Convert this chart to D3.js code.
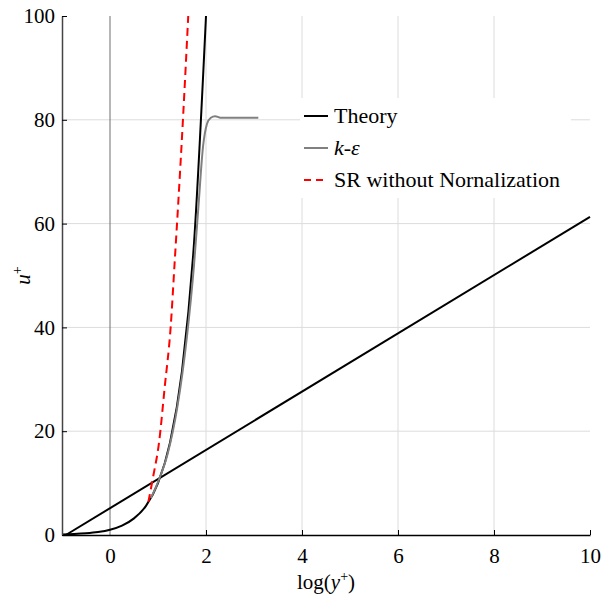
<!DOCTYPE html>
<html>
<head>
<meta charset="utf-8">
<script src="https://cdn.jsdelivr.net/npm/d3@7"></script>
<style>
	body { margin: 0; background: #fff; }
</style>
</head>
<body>
<div id="chart"></div>
<script>
// values
const xTicks = [0, 2, 4, 6, 8, 10];
const yTicks = [0, 20, 40, 60, 80, 100];

// theory: viscous sublayer branch
const theoryX = [-1, -0.75, -0.5, -0.25, 0, 0.25, 0.5, 0.75, 1, 1.25, 1.5, 1.75, 2];
const theoryY = [0.1, 0.18, 0.32, 0.56, 1, 1.8, 3.2, 5.6, 10, 17.8, 31.6, 56.2, 100];
// theory: log-law branch
const logLawX = [-0.92, 10];
const logLawY = [0, 61.3];

const keX = [0.85, 1.0, 1.2, 1.4, 1.6, 1.75, 1.84, 1.94, 2.02, 2.1, 2.19, 2.3, 3.09];
const keY = [7.1, 10.2, 15.6, 24.5, 38, 52, 63, 75, 79.2, 80.4, 80.7, 80.4, 80.4];

const srX = [0.8, 0.9, 1.02, 1.14, 1.264, 1.35, 1.417, 1.527, 1.63];
const srY = [6.4, 11.3, 17.7, 28.5, 40.1, 53, 63.2, 81.3, 100];

const legendLabels = ["Theory", "k-ε", "SR without Nornalization"];

{
	const width = 603, height = 599;
	const margin = { top: 16, right: 13, bottom: 64, left: 62 };
	const serif = "'Liberation Serif', 'DejaVu Serif', serif";

	const svg = d3.select("#chart").append("svg")
		.attr("width", width).attr("height", height)
		.style("font-family", serif);

	const x = d3.scaleLinear().domain([-1, 10]).range([margin.left, width - margin.right]);
	const y = d3.scaleLinear().domain([0, 100]).range([height - margin.bottom, margin.top]);

	const zip = (xs, ys) => xs.map((v, i) => [v, ys[i]]);

	// grid
	svg.append("g").selectAll("line")
		.data(xTicks.filter((d) => d !== 0 && d !== 10))
		.join("line")
		.attr("x1", (d) => x(d)).attr("x2", (d) => x(d))
		.attr("y1", y(0)).attr("y2", y(100))
		.attr("stroke", "#dcdcdc");
	svg.append("g").selectAll("line")
		.data(yTicks.filter((d) => d !== 0 && d !== 100))
		.join("line")
		.attr("x1", x(-1)).attr("x2", x(10))
		.attr("y1", (d) => y(d)).attr("y2", (d) => y(d))
		.attr("stroke", "#dcdcdc");
	// zero line
	svg.append("line")
		.attr("x1", x(0)).attr("x2", x(0))
		.attr("y1", y(0)).attr("y2", y(100))
		.attr("stroke", "#6e6e6e");

	// legend background hides the grid
	svg.append("rect")
		.attr("x", 300).attr("y", 98).attr("width", 271).attr("height", 100)
		.attr("fill", "#fff");

	const line = d3.line().x((d) => x(d[0])).y((d) => y(d[1]));
	const smooth = d3.line().x((d) => x(d[0])).y((d) => y(d[1])).curve(d3.curveMonotoneX);

	const plot = svg.append("g");
	plot.append("path").datum(zip(theoryX, theoryY))
		.attr("d", smooth).attr("fill", "none").attr("stroke", "#000").attr("stroke-width", 2);
	plot.append("path").datum(zip(logLawX, logLawY))
		.attr("d", line).attr("fill", "none").attr("stroke", "#000").attr("stroke-width", 2);
	plot.append("path").datum(zip(keX, keY))
		.attr("d", smooth).attr("fill", "none").attr("stroke", "#808080").attr("stroke-width", 2);
	plot.append("path").datum(zip(srX, srY))
		.attr("d", smooth).attr("fill", "none").attr("stroke", "#ff0000")
		.attr("stroke-width", 2).attr("stroke-dasharray", "8,5");

	// axes
	const xAxis = d3.axisBottom(x).tickValues(xTicks).tickSizeInner(-5).tickSizeOuter(0).tickPadding(13);
	const yAxis = d3.axisLeft(y).tickValues(yTicks).tickSizeInner(-5).tickSizeOuter(0).tickPadding(7);

	const gx = svg.append("g")
		.attr("transform", `translate(0,${y(0)})`)
		.call(xAxis);
	const gy = svg.append("g")
		.attr("transform", `translate(${x(-1)},0)`)
		.call(yAxis);
	[gx, gy].forEach((g) => {
		g.attr("font-family", null);
		g.select(".domain").attr("stroke", "#000").attr("stroke-width", 1.5);
		g.selectAll(".tick line").attr("stroke", "#000");
		g.selectAll(".tick text")
			.style("font-family", serif)
			.attr("font-size", 21).attr("fill", "#000");
	});
	gy.select(".domain").attr("stroke", "#444");
	gx.selectAll(".tick").filter((d) => d === 0).select("line").remove();

	// axis titles
	const xt = svg.append("text")
		.attr("x", (x(-1) + x(10)) / 2).attr("y", 589)
		.attr("text-anchor", "middle").attr("font-size", 21);
	xt.append("tspan").text("log(");
	xt.append("tspan").attr("font-style", "italic").text("y");
	xt.append("tspan").attr("dy", -8).attr("font-size", 14).text("+");
	xt.append("tspan").attr("dy", 8).text(")");

	const yt = svg.append("text")
		.attr("transform", `translate(30,${(y(0) + y(100)) / 2}) rotate(-90)`)
		.attr("text-anchor", "middle").attr("font-size", 21);
	yt.append("tspan").attr("font-style", "italic").text("u");
	yt.append("tspan").attr("dy", -8).attr("font-size", 14).text("+");

	// legend
	const legendStyles = [
		{ color: "#000", dash: null, width: 2 },
		{ color: "#808080", dash: null, width: 2 },
		{ color: "#ff0000", dash: "7,5", width: 2 }
	];
	const legend = svg.append("g").attr("transform", "translate(304,116)");
	legendLabels.forEach((label, i) => {
		const row = legend.append("g").attr("transform", `translate(0,${i * 32})`);
		row.append("line")
			.attr("x1", 0).attr("x2", 24).attr("y1", 0).attr("y2", 0)
			.attr("stroke", legendStyles[i].color)
			.attr("stroke-width", legendStyles[i].width)
			.attr("stroke-dasharray", legendStyles[i].dash);
		const t = row.append("text").attr("x", 30).attr("y", 7).attr("font-size", 22);
		if (i === 1) {
			t.append("tspan").attr("font-style", "italic").text("k");
			t.append("tspan").text("-");
			t.append("tspan").attr("font-style", "italic").text("ε");
		} else {
			t.text(label);
		}
	});
}
</script>
</body>
</html>
